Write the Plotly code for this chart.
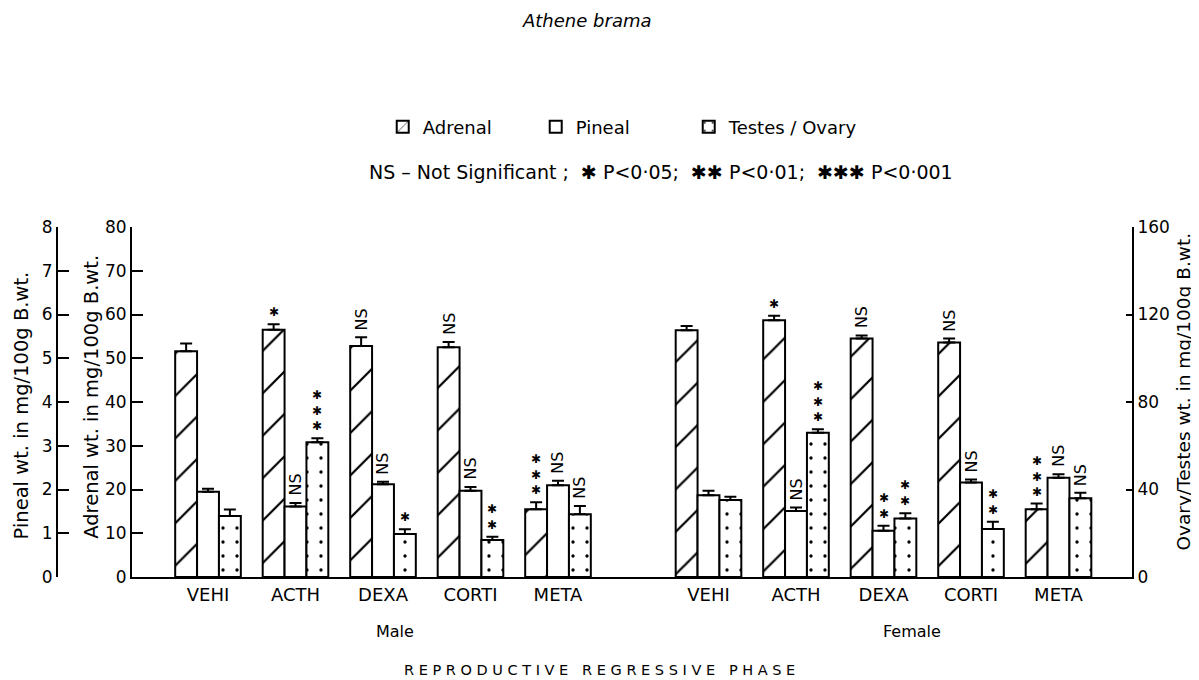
import plotly.graph_objects as go

# ---------------- data ----------------
treatments = ["VEHI", "ACTH", "DEXA", "CORTI", "META"]
sexes = ["Male", "Female"]

# Adrenal wt (mg/100 g B.wt.)  - left inner axis 0-80
adrenal_male = [51.6, 56.5, 52.8, 52.5, 15.5]
adrenal_male_err = [1.8, 1.3, 2.0, 1.2, 1.6]
adrenal_female = [56.4, 58.7, 54.5, 53.6, 15.5]
adrenal_female_err = [1.0, 1.0, 0.7, 0.9, 1.3]

# Pineal wt (mg/100 g B.wt.) - left outer axis 0-8
pineal_male = [1.95, 1.61, 2.12, 1.97, 2.10]
pineal_male_err = [0.07, 0.08, 0.06, 0.09, 0.10]
pineal_female = [1.87, 1.51, 1.06, 2.16, 2.27]
pineal_female_err = [0.10, 0.08, 0.11, 0.07, 0.08]

# Testes / Ovary wt (mg/100 g B.wt.) - right axis 0-160
gonad_male = [27.9, 61.6, 19.7, 16.9, 28.7]
gonad_male_err = [3.0, 1.8, 2.1, 1.5, 3.8]
gonad_female = [35.2, 66.0, 26.7, 21.9, 36.0]
gonad_female_err = [1.5, 1.5, 2.4, 3.4, 2.5]

# significance labels
adrenal_sig_male = ["", "*", "NS", "NS", "***"]
adrenal_sig_female = ["", "*", "NS", "NS", "***"]
pineal_sig_male = ["", "NS", "NS", "NS", "NS"]
pineal_sig_female = ["", "NS", "**", "NS", "NS"]
gonad_sig_male = ["", "***", "*", "**", "NS"]
gonad_sig_female = ["", "***", "**", "**", "NS"]

series_names = ["Adrenal", "Pineal", "Testes / Ovary"]

# ---------------- layout helpers ----------------
FONT = "DejaVu Sans"
BLACK = "black"
female_start = 5.72
group_pos = [i for i in range(len(treatments))] + [female_start + i for i in range(len(treatments))]
BW = 0.25
offsets = [-1.5 * BW, -0.5 * BW, 0.5 * BW]

series = [
    dict(name=series_names[0], vals=adrenal_male + adrenal_female,
         err=adrenal_male_err + adrenal_female_err,
         sig=adrenal_sig_male + adrenal_sig_female, axis="y",
         pattern=dict(shape="/", size=30, solidity=0.075, fgcolor=BLACK, fgopacity=1,
                      bgcolor="white", fillmode="overlay")),
    dict(name=series_names[1], vals=pineal_male + pineal_female,
         err=pineal_male_err + pineal_female_err,
         sig=pineal_sig_male + pineal_sig_female, axis="y2",
         pattern=dict(shape="")),
    dict(name=series_names[2], vals=gonad_male + gonad_female,
         err=gonad_male_err + gonad_female_err,
         sig=gonad_sig_male + gonad_sig_female, axis="y3",
         pattern=dict(shape=".", size=14, solidity=0.045, fgcolor=BLACK, fgopacity=1,
                      bgcolor="white", fillmode="overlay")),
]

fig = go.Figure()
annotations = []
for k, s in enumerate(series):
    fig.add_trace(go.Bar(
        x=group_pos, y=s["vals"], name=s["name"], yaxis=s["axis"],
        width=BW, offset=offsets[k],
        marker=dict(color="white", line=dict(color=BLACK, width=2), pattern=s["pattern"]),
        error_y=dict(type="data", symmetric=False, array=s["err"], arrayminus=[0] * len(s["err"]),
                     color=BLACK, thickness=2, width=6),
    ))
    for i, lab in enumerate(s["sig"]):
        if not lab:
            continue
        xc = group_pos[i] + offsets[k] + BW / 2
        top = s["vals"][i] + s["err"][i]
        if lab == "NS":
            annotations.append(dict(x=xc, y=top, xref="x", yref=s["axis"], text="NS", textangle=-90,
                                    showarrow=False, xanchor="center", yanchor="bottom", yshift=5,
                                    font=dict(family=FONT, size=16, color=BLACK)))
        else:
            annotations.append(dict(x=xc, y=top, xref="x", yref=s["axis"],
                                    text="<br>".join(["✱"] * len(lab)),
                                    showarrow=False, xanchor="center", yanchor="bottom", yshift=3,
                                    font=dict(family=FONT, size=12, color=BLACK)))

# empty legend spacer so the last legend label is not clipped by the fixed entry width
fig.add_trace(go.Bar(x=[None], y=[None], name=" ", showlegend=True, hoverinfo="skip",
                     marker=dict(color="rgba(0,0,0,0)", line=dict(width=0))))

tickvals = group_pos
ticktext = treatments + treatments


def txt(text, x, y, size, angle=0):
    return dict(text=text, x=x, y=y, xref="paper", yref="paper", showarrow=False,
                xanchor="center", yanchor="middle", textangle=angle,
                font=dict(family=FONT, size=size, color=BLACK))


annotations += [
    txt("<i>Athene brama</i>", 0.4921, 1.591, 18),
    txt("NS – Not Significant ;  ✱ P<0·05;  ✱✱ P<0·01;  ✱✱✱ P<0·001", 0.562, 1.157, 19),
    txt("Male", 0.3144, -0.157, 16),
    txt("Female", 0.795, -0.157, 16),
    txt("R E P R O D U C T I V E   R E G R E S S I V E   P H A S E", 0.505, -0.266, 14.5),
    txt("Pineal wt. in mg/100g B.wt.", -0.0326, 0.49, 19.5, -90),
    txt("Adrenal wt. in mg/100g B.wt.", 0.0326, 0.515, 19.5, -90),
    txt("Ovary/Testes wt. in mg/100g B.wt.", 1.0475, 0.53, 18.5, -90),
]

axis_common = dict(showgrid=False, zeroline=False, showline=True, linecolor=BLACK, linewidth=2,
                   ticks="inside", tickcolor=BLACK, tickwidth=2,
                   tickfont=dict(family=FONT, size=17, color=BLACK))

# the page body adds an 8px offset, so the figure is 8px smaller than the window
fig.update_layout(
    width=1191, height=672,
    margin=dict(l=49, r=67, t=219, b=103),
    paper_bgcolor="white", plot_bgcolor="white",
    barmode="overlay",
    showlegend=True,
    legend=dict(orientation="h", x=0.303, y=1.2857, xanchor="left", yanchor="middle",
                entrywidth=108, entrywidthmode="pixels",
                font=dict(family=FONT, size=18, color=BLACK), bgcolor="rgba(0,0,0,0)"),
    xaxis=dict(domain=[0.06977, 1], range=[-0.8686, 10.56], showgrid=False, zeroline=False,
               showline=True, linecolor=BLACK, linewidth=2, ticks="",
               tickvals=tickvals, ticktext=ticktext,
               tickfont=dict(family=FONT, size=18, color=BLACK)),
    yaxis=dict(range=[0, 80], tickvals=[0, 10, 20, 30, 40, 50, 60, 70, 80], ticklen=11,
               anchor="x", side="left", **axis_common),
    yaxis2=dict(range=[0, 8], tickvals=list(range(9)), ticklen=11, overlaying="y",
                anchor="free", position=0, side="left", **axis_common),
    yaxis3=dict(range=[0, 160], tickvals=[0, 40, 80, 120, 160], ticklen=6, overlaying="y",
                anchor="x", side="right", **axis_common),
    annotations=annotations,
)

fig.write_html("out.html")
